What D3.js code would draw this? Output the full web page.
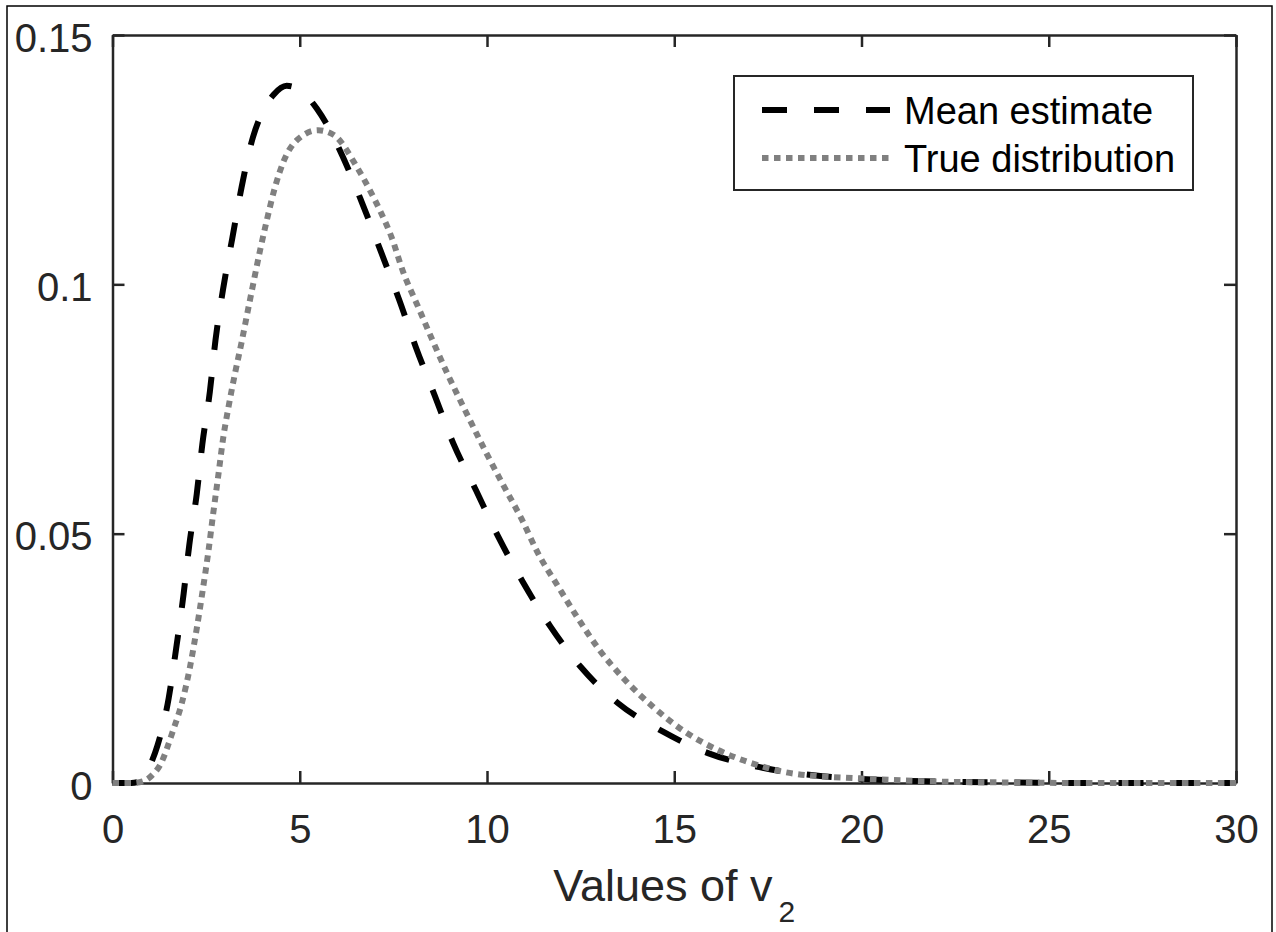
<!DOCTYPE html>
<html>
<head>
<meta charset="utf-8">
<script src="https://cdn.jsdelivr.net/npm/d3@7"></script>
<style>
  body { margin: 0; background: #fff; }
  text { font-family: "Liberation Sans", Arial, Helvetica, sans-serif; }
</style>
</head>
<body>
<div id="viz"></div>
<script>
// Data
const meanX = [0, 0.5, 0.75, 1.0, 1.2, 1.5, 1.7, 1.9, 2.05, 2.25, 2.4, 2.6, 2.75, 2.95, 3.2, 3.45, 3.75, 4.0, 4.3, 4.65, 5.0, 5.45, 5.8, 6.15, 6.65, 7.15, 7.65, 8.1, 8.6, 9.1, 9.7, 10.3, 10.95, 11.7, 12.5, 13.5, 14.7, 15.9, 17.2, 18.9, 20, 22, 24, 26, 30];
const meanY = [0, 0, 0.0004, 0.0035, 0.0075, 0.017, 0.027, 0.038, 0.0477, 0.058, 0.068, 0.0785, 0.0888, 0.0989, 0.1093, 0.1196, 0.1295, 0.1345, 0.138, 0.1398, 0.139, 0.1353, 0.131, 0.1256, 0.1166, 0.1069, 0.097, 0.0874, 0.0778, 0.0681, 0.0588, 0.0494, 0.0404, 0.0313, 0.0233, 0.016, 0.0103, 0.006, 0.0033, 0.0014, 0.0008, 0.0003, 0.0001, 0, 0];

const trueX = [0, 0.5, 0.8, 1.05, 1.27, 1.62, 1.85, 2.07, 2.25, 2.41, 2.56, 2.69, 2.82, 2.96, 3.1, 3.27, 3.45, 3.6, 3.76, 3.94, 4.11, 4.34, 4.56, 4.92, 5.49, 5.9, 6.52, 6.87, 7.18, 7.45, 7.76, 8.16, 8.56, 8.96, 9.45, 9.94, 10.43, 10.92, 11.36, 11.9, 12.43, 13.0, 13.68, 14.43, 15.28, 16.17, 17.1, 18.17, 20, 22, 24, 26, 30];
const trueY = [0, 0, 0.0003, 0.0015, 0.0036, 0.0106, 0.016, 0.0233, 0.031, 0.0387, 0.0464, 0.0541, 0.0614, 0.0694, 0.0755, 0.0821, 0.0885, 0.0942, 0.1002, 0.1068, 0.1125, 0.1195, 0.1245, 0.1289, 0.1309, 0.13, 0.1236, 0.1189, 0.1142, 0.1095, 0.1025, 0.0955, 0.0885, 0.0818, 0.0742, 0.0668, 0.0598, 0.053, 0.0461, 0.0394, 0.033, 0.0267, 0.0207, 0.0153, 0.0103, 0.0066, 0.0039, 0.0019, 0.0009, 0.0003, 0.0001, 0, 0];

const xTicks = [0, 5, 10, 15, 20, 25, 30];
const yTicks = [0, 0.05, 0.1, 0.15];
const yTickLabels = ['0', '0.05', '0.1', '0.15'];
const seriesNames = ['Mean estimate', 'True distribution'];

const axisColor = '#262626';

let dimensions = {
  width: 1276,
  height: 932,
  margin: { top: 35, right: 40, bottom: 149, left: 112.5 },
}
dimensions.boundedWidth = dimensions.width - dimensions.margin.left - dimensions.margin.right
dimensions.boundedHeight = dimensions.height - dimensions.margin.top - dimensions.margin.bottom

const svg = d3.select('div#viz')
  .append('svg')
  .attr('width', dimensions.width)
  .attr('height', dimensions.height);

// figure frame
svg.append('rect')
  .attr('x', 7).attr('y', 6)
  .attr('width', 1265).attr('height', 930)
  .attr('fill', 'none')
  .attr('stroke', '#000')
  .attr('stroke-width', 1.5);

const bounds = svg.append('g')
  .attr('transform', `translate(${dimensions.margin.left}, ${dimensions.margin.top})`);

// Scales
const xScale = d3.scaleLinear().domain([0, 30]).range([0, dimensions.boundedWidth]);
const yScale = d3.scaleLinear().domain([0, 0.15]).range([dimensions.boundedHeight, 0]);

// Axes (ticks inward, box on)
const tickLen = 12;
const fmtY = (d, i) => yTickLabels[i];

const xAxisBottom = bounds.append('g')
  .attr('transform', `translate(0, ${dimensions.boundedHeight})`)
  .call(d3.axisBottom(xScale).tickValues(xTicks).tickSizeInner(-tickLen).tickSizeOuter(0).tickPadding(32));
const xAxisTop = bounds.append('g')
  .call(d3.axisTop(xScale).tickValues(xTicks).tickSizeInner(-tickLen).tickSizeOuter(0).tickFormat(''));
const yAxisLeft = bounds.append('g')
  .call(d3.axisLeft(yScale).tickValues(yTicks).tickFormat(fmtY).tickSizeInner(-tickLen).tickSizeOuter(0).tickPadding(20));
const yAxisRight = bounds.append('g')
  .attr('transform', `translate(${dimensions.boundedWidth}, 0)`)
  .call(d3.axisRight(yScale).tickValues(yTicks).tickSizeInner(-tickLen).tickSizeOuter(0).tickFormat(''));

[xAxisBottom, xAxisTop, yAxisLeft, yAxisRight].forEach(ax => {
  ax.select('.domain').attr('stroke', axisColor).attr('stroke-width', 2.5);
  ax.selectAll('.tick line').attr('stroke', axisColor).attr('stroke-width', 2.5);
  ax.selectAll('.tick text')
    .attr('fill', axisColor)
    .style('font-size', '40px');
});
yAxisLeft.selectAll('.tick text').attr('dy', '0.4em');

// axis label
const xLabel = bounds.append('text')
  .attr('x', dimensions.boundedWidth / 2)
  .attr('y', 901 - dimensions.margin.top)
  .attr('text-anchor', 'middle')
  .attr('fill', axisColor)
  .style('font-size', '45px');
xLabel.append('tspan').text('Values of v');
xLabel.append('tspan').attr('dx', 6).attr('dy', 21).style('font-size', '30px').text('2');

// Curves
const lineGen = d3.line()
  .x(d => xScale(d[0]))
  .y(d => yScale(d[1]))
  .curve(d3.curveMonotoneX);

const meanData = meanX.map((x, i) => [x, meanY[i]]);
const trueData = trueX.map((x, i) => [x, trueY[i]]);

bounds.append('path')
  .attr('d', lineGen(meanData))
  .attr('fill', 'none')
  .attr('stroke', '#000')
  .attr('stroke-width', 6)
  .attr('stroke-dasharray', '25,27');

bounds.append('path')
  .attr('d', lineGen(trueData))
  .attr('fill', 'none')
  .attr('stroke', '#808080')
  .attr('stroke-width', 6)
  .attr('stroke-dasharray', '6.5,5.5');

// Legend
const legend = svg.append('g');
legend.append('rect')
  .attr('x', 734).attr('y', 76)
  .attr('width', 459).attr('height', 114)
  .attr('fill', '#fff')
  .attr('stroke', axisColor)
  .attr('stroke-width', 2);

const legendStyles = [
  { stroke: '#000', dash: '25,27' },
  { stroke: '#808080', dash: '6.5,5.5' },
];
seriesNames.forEach((name, i) => {
  const cy = 110 + i * 48;
  legend.append('line')
    .attr('x1', 762).attr('x2', 890)
    .attr('y1', cy).attr('y2', cy)
    .attr('stroke', legendStyles[i].stroke)
    .attr('stroke-width', 6)
    .attr('stroke-dasharray', legendStyles[i].dash);
  legend.append('text')
    .attr('x', 904)
    .attr('y', cy + 14)
    .attr('fill', '#000')
    .style('font-size', '38px')
    .text(name);
});
</script>
</body>
</html>
